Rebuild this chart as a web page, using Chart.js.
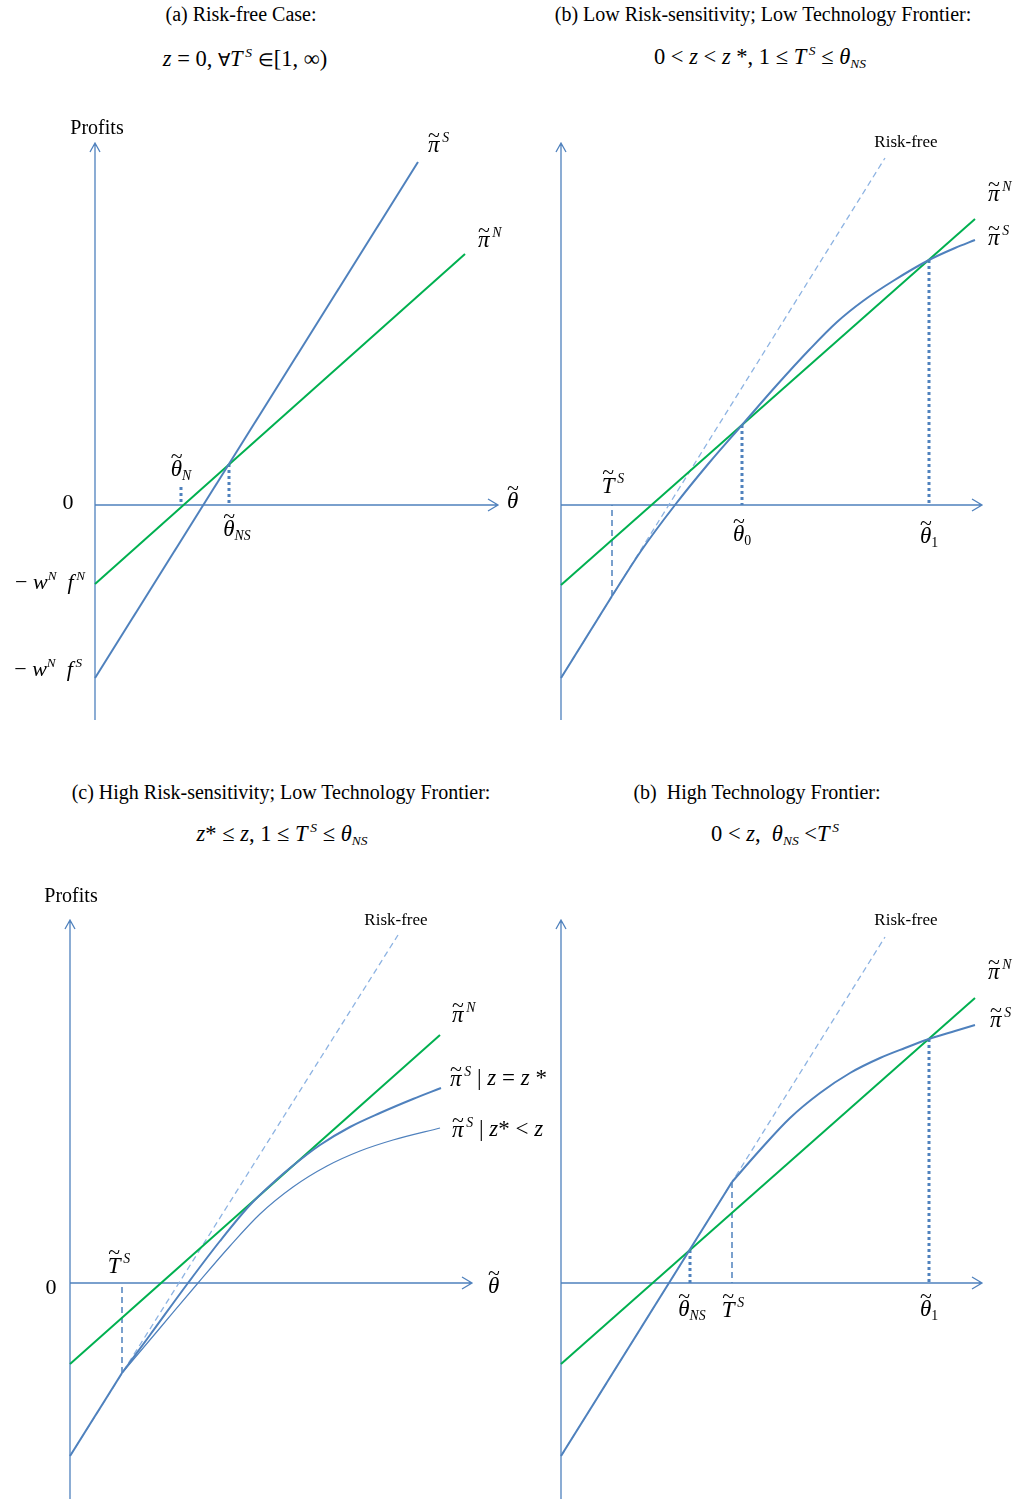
<!DOCTYPE html>
<html>
<head>
<meta charset="utf-8">
<script src="https://cdn.jsdelivr.net/npm/chart.js@4.4.1/dist/chart.umd.min.js"></script>
<style>
html, body { margin: 0; padding: 0; background: #fff; }
body { width: 1017px; height: 1499px; position: relative; overflow: hidden;
       font-family: "Liberation Serif", "Times New Roman", serif; color: #000; }
canvas { position: absolute; }
.txt { position: absolute; white-space: nowrap; line-height: 1; }
.ttl { font-size: 20px; }
.fm { font-size: 22.5px; }
.lb { font-size: 23px; }
.sm { font-size: 17px; }
.pf { font-size: 20px; }
.num { font-size: 22px; }
.sym { font-size: 0.82em; }
.acc { position: relative; display: inline-block; font-style: italic; }
.tld { position: absolute; left: 0; right: 0; text-align: center; font-style: normal; font-size: 0.95em; }
.sp { font-size: 0.6em; vertical-align: 0.7em; font-style: italic; }
.sb { font-size: 0.6em; vertical-align: -0.3em; font-style: italic; }
.sb.up { font-style: normal; }
</style>
</head>
<body>
<canvas id="panelA"></canvas>
<canvas id="panelB"></canvas>
<canvas id="panelC"></canvas>
<canvas id="panelD"></canvas>
<script>
const BLUE = '#4F81BD';
const GREEN = '#00B050';
const LIGHT = '#8DB3E2';

// (a) risk-free case
const aProfitN = [[0, -7.9], [37, 25.1]];
const aProfitS = [[0, -17.3], [32.3, 34.3]];
const aThetaN = 8.6;
const aCross = [13.4, 4.1];

// (b) low risk-sensitivity, low technology frontier
const bProfitN = [[0, -8.0], [41.4, 28.6]];
const bRiskFree = [[0, -17.3], [32.4, 34.7]];
const bTS = [5.1, -9.1];
const bProfitS = [[5.1, -9.1], [8.0, -4.6], [11.4, 0], [14.8, 4.2], [18.1, 8.0], [21.5, 11.9],
                  [24.9, 15.6], [27.6, 18.3], [30.2, 20.4], [33.2, 22.4], [36.8, 24.5],
                  [39.4, 25.7], [41.4, 26.5]];
const bTheta0 = [18.1, 8.0];
const bTheta1 = [36.8, 24.5];

// (c) high risk-sensitivity, low technology frontier
const cProfitN = [[0, -8.1], [37, 24.8]];
const cRiskFree = [[0, -17.3], [32.8, 34.8]];
const cTS = [5.2, -9.0];
const cProfitStar = [[5.2, -9.0], [8.0, -5.2], [11.8, 0], [15.0, 4.2], [18.0, 7.8], [20.5, 10.2],
                     [22.0, 11.5], [25.0, 13.8], [28.0, 15.6], [31.0, 17.0], [34.3, 18.4],
                     [37.1, 19.5]];
const cProfitHigh = [[5.2, -9.0], [9.0, -4.5], [12.8, 0], [16.0, 3.7], [19.0, 6.9], [22.3, 9.6],
                     [25.7, 11.7], [29.0, 13.2], [32.3, 14.3], [37.0, 15.5]];

// (d) high technology frontier
const dProfitN = [[0, -8.1], [41.4, 28.5]];
const dRiskFree = [[0, -17.3], [32.4, 34.6]];
const dTS = [17.1, 10.1];
const dProfitS = [[17.1, 10.1], [19.9, 13.3], [22.9, 16.5], [25.9, 19.0], [28.9, 21.0],
                  [31.9, 22.5], [34.4, 23.5], [36.8, 24.4], [39.4, 25.2], [41.4, 25.8]];
const dThetaNS = [12.9, 3.3];
const dTheta1 = [36.8, 24.4];

const PX = 10; // pixels per unit on both axes

const xy = pts => pts.map(([x, y]) => ({x, y}));
const vline = ([x, y]) => [[x, y], [x, 0]];

function solid(pts, color, w, smooth) {
  return { data: xy(pts), borderColor: color, borderWidth: w, pointRadius: 0, fill: false,
           tension: 0, cubicInterpolationMode: smooth ? 'monotone' : 'default' };
}
function dashed(pts, color, w) {
  return Object.assign(solid(pts, color, w), { borderDash: [6, 4] });
}
function dotted(pts) {
  return Object.assign(solid(pts, BLUE, 3), { borderDash: [3, 3], borderCapStyle: 'butt' });
}

// axes with open arrowheads, drawn through the panel scales
const axisArrows = {
  id: 'axisArrows',
  beforeDatasetsDraw(chart, args, opts) {
    const {ctx, scales: {x, y}} = chart;
    const x0 = x.getPixelForValue(0), y0 = y.getPixelForValue(0);
    const xe = x.getPixelForValue(opts.xEnd);
    const yt = y.getPixelForValue(opts.yTop), yb = y.getPixelForValue(opts.yBottom);
    ctx.save();
    ctx.strokeStyle = BLUE;
    ctx.lineWidth = 1.3;
    ctx.beginPath();
    ctx.moveTo(x0, yb); ctx.lineTo(x0, yt);
    ctx.moveTo(x0, y0); ctx.lineTo(xe, y0);
    ctx.moveTo(x0 - 5, yt + 9); ctx.lineTo(x0, yt); ctx.lineTo(x0 + 5, yt + 9);
    ctx.moveTo(xe - 10, y0 - 6); ctx.lineTo(xe, y0); ctx.lineTo(xe - 10, y0 + 6);
    ctx.stroke();
    ctx.restore();
  }
};

// math pieces
const acc = (ch, top) => `<span class="acc">${ch}<span class="tld" style="top:${top}em">~</span></span>`;
const sp = s => `<span class="sp">${s}</span>`;
const sb = s => `<span class="sb">${s}</span>`;
const sbUp = s => `<span class="sb up">${s}</span>`;
const piT = s => acc('π', -0.36) + sp('&thinsp;' + s);
const thT = s => acc('θ', -0.5) + sb(s);
const TT = acc('T', -0.52) + sp('&thinsp;S');

function makePanel(id, box, origin, axes, datasets, labels) {
  const cv = document.getElementById(id);
  cv.width = box.w; cv.height = box.h;
  cv.style.left = box.l + 'px'; cv.style.top = box.t + 'px';
  const ox = origin[0] - box.l, oy = origin[1] - box.t;
  const chart = new Chart(cv, {
    type: 'line',
    data: { datasets },
    options: {
      responsive: false, animation: false, events: [],
      layout: { padding: 0 },
      plugins: { legend: { display: false }, tooltip: { enabled: false }, axisArrows: axes },
      scales: {
        x: { type: 'linear', display: false, min: -ox / PX, max: (box.w - ox) / PX },
        y: { type: 'linear', display: false, min: (oy - box.h) / PX, max: oy / PX }
      }
    },
    plugins: [axisArrows]
  });
  labels.forEach(([tx, ty, html, align, cls]) => {
    const el = document.createElement('div');
    el.className = 'txt ' + (cls || 'lb');
    el.innerHTML = html;
    el.style.left = (box.l + chart.scales.x.getPixelForValue(tx)) + 'px';
    el.style.top = (box.t + chart.scales.y.getPixelForValue(ty)) + 'px';
    el.style.transform = align === 'l' ? 'translate(0,-50%)'
      : align === 'r' ? 'translate(-100%,-50%)' : 'translate(-50%,-50%)';
    document.body.appendChild(el);
  });
  return chart;
}

function addText(x, y, html, cls) {
  const el = document.createElement('div');
  el.className = 'txt ' + cls;
  el.innerHTML = html;
  el.style.left = x + 'px'; el.style.top = y + 'px';
  el.style.transform = 'translate(-50%,-50%)';
  document.body.appendChild(el);
}

const TS = '<i>T</i>' + sp('&thinsp;S');
const thNS = '<i>θ</i>' + sb('NS');

// titles and conditions
addText(241, 14, '(a) Risk-free Case:', 'ttl');
addText(245, 58, '<i>z</i> = 0, <span class="sym">∀</span>' + TS + ' <span class="sym">∈</span>[1, ∞)', 'fm');
addText(763, 14, '(b) Low Risk-sensitivity; Low Technology Frontier:', 'ttl');
addText(760, 57, '0 &lt; <i>z</i> &lt; <i>z</i> *, 1 ≤ ' + TS + ' ≤ ' + thNS, 'fm');
addText(281, 792, '(c) High Risk-sensitivity; Low Technology Frontier:', 'ttl');
addText(282, 834, '<i>z</i>* ≤ <i>z</i>, 1 ≤ ' + TS + ' ≤ ' + thNS, 'fm');
addText(757, 792, '(b)&nbsp; High Technology Frontier:', 'ttl');
addText(775, 834, '0 &lt; <i>z</i>,&nbsp; ' + thNS + ' &lt;' + TS, 'fm');

const minusWF = s => '− <i>w</i>' + sp('N') + '&nbsp; <i>f</i>' + sp('&thinsp;' + s);

makePanel('panelA', {l: 0, t: 100, w: 540, h: 640}, [95, 505],
  {xEnd: 40.3, yTop: 36.2, yBottom: -21.5},
  [
    solid(aProfitS, BLUE, 2),
    solid(aProfitN, GREEN, 2),
    dotted(vline(aCross)),
    dotted([[aThetaN, 1.8], [aThetaN, 0.1]])
  ],
  [
    [0.2, 37.8, 'Profits', 'c', 'pf'],
    [33.3, 36.2, piT('S'), 'l'],
    [38.3, 26.7, piT('N'), 'l'],
    [aThetaN, 3.5, thT('N'), 'c'],
    [-2.7, 0.3, '0', 'c', 'num'],
    [41.2, 0.5, acc('θ', -0.5), 'l'],
    [aCross[0] + 0.8, -2.5, thT('NS'), 'c'],
    [-1.0, -7.6, minusWF('N'), 'r', 'num'],
    [-1.3, -16.3, minusWF('S'), 'r', 'num']
  ]);

makePanel('panelB', {l: 540, t: 100, w: 477, h: 640}, [561, 505],
  {xEnd: 42.1, yTop: 36.2, yBottom: -21.5},
  [
    solid([bRiskFree[0], bTS], BLUE, 2),
    solid(bProfitS, BLUE, 2, true),
    solid(bProfitN, GREEN, 2),
    dotted(vline(bTheta0)),
    dotted(vline(bTheta1)),
    dashed(vline(bTS), BLUE, 1.5),
    dashed(bRiskFree, LIGHT, 1.3)
  ],
  [
    [34.5, 36.4, 'Risk-free', 'c', 'sm'],
    [42.7, 31.3, piT('N'), 'l'],
    [42.7, 26.9, piT('S'), 'l'],
    [bTS[0] + 0.1, 2.1, TT, 'c'],
    [bTheta0[0], -3.0, acc('θ', -0.5) + sbUp('0'), 'c'],
    [bTheta1[0], -3.2, acc('θ', -0.5) + sbUp('1'), 'c']
  ]);

makePanel('panelC', {l: 0, t: 880, w: 540, h: 619}, [70, 1283],
  {xEnd: 40.2, yTop: 36.3, yBottom: -21.6},
  [
    solid([cRiskFree[0], cTS], BLUE, 2),
    solid(cProfitStar, BLUE, 2, true),
    solid(cProfitHigh, BLUE, 1.2, true),
    solid(cProfitN, GREEN, 2),
    dashed(vline(cTS), BLUE, 1.5),
    dashed(cRiskFree, LIGHT, 1.3)
  ],
  [
    [0.1, 38.8, 'Profits', 'c', 'pf'],
    [32.6, 36.4, 'Risk-free', 'c', 'sm'],
    [38.2, 27.0, piT('N'), 'l'],
    [38.0, 20.6, piT('S') + ' | <i>z</i> = <i>z</i> *', 'l'],
    [38.2, 15.5, piT('S') + ' | <i>z</i>* &lt; <i>z</i>', 'l'],
    [cTS[0] - 0.3, 1.9, TT, 'c'],
    [-1.9, -0.4, '0', 'c', 'num'],
    [41.8, -0.2, acc('θ', -0.5), 'l']
  ]);

makePanel('panelD', {l: 540, t: 880, w: 477, h: 619}, [561, 1283],
  {xEnd: 42.1, yTop: 36.3, yBottom: -21.6},
  [
    solid([dRiskFree[0], dTS], BLUE, 2),
    solid(dProfitS, BLUE, 2, true),
    solid(dProfitN, GREEN, 2),
    dotted(vline(dThetaNS)),
    dotted(vline(dTheta1)),
    dashed(vline(dTS), BLUE, 1.5),
    dashed(dRiskFree, LIGHT, 1.3)
  ],
  [
    [34.5, 36.4, 'Risk-free', 'c', 'sm'],
    [42.7, 31.3, piT('N'), 'l'],
    [42.9, 26.5, piT('S'), 'l'],
    [dThetaNS[0] + 0.2, -2.7, thT('NS'), 'c'],
    [dTS[0] + 0.1, -2.5, TT, 'c'],
    [dTheta1[0], -2.7, acc('θ', -0.5) + sbUp('1'), 'c']
  ]);
</script>
</body>
</html>
